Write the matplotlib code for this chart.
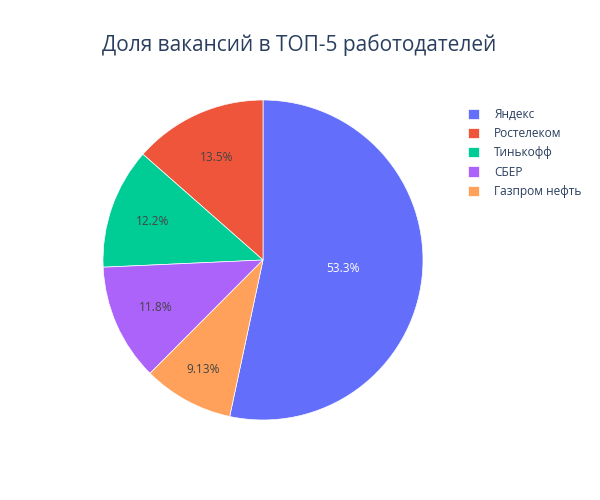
import numpy as np
import matplotlib
matplotlib.use("Agg")
import matplotlib.pyplot as plt

# ==== ДАННЫЕ ====
COMPANIES = ["Яндекс", "Ростелеком", "Тинькофф", "СБЕР", "Газпром нефть"]
SHARES = [53.3, 13.5, 12.2, 11.8, 9.13]
TITLE = "Доля вакансий в ТОП-5 работодателей"

# ==== ОФОРМЛЕНИЕ ====
COLORS = ["#636EFA", "#EF553B", "#00CC96", "#AB63FA", "#FFA15A"]
TEXT_COLORS = ["white", "#444444", "#444444", "#444444", "#444444"]
LABEL_RADIUS = [0.50, 0.70, 0.73, 0.73, 0.78]
TITLE_COLOR = "#2a3f5f"

plt.rcParams["font.family"] = ["Open Sans", "DejaVu Sans"]

fig = plt.figure(figsize=(6, 5), dpi=100)
ax = fig.add_axes([103 / 600, 80 / 500, 320 / 600, 320 / 500])

start = 90 - 360 * SHARES[0] / sum(SHARES)
wedges, _ = ax.pie(
    SHARES, colors=COLORS, startangle=start, counterclock=True,
    radius=1.0, wedgeprops=dict(edgecolor="white", linewidth=0.5),
)
ax.set_xlim(-1, 1)
ax.set_ylim(-1, 1)
ax.set_aspect("equal")
ax.axis("off")

# подписи процентов внутри секторов
for w, val, r, tc in zip(wedges, SHARES, LABEL_RADIUS, TEXT_COLORS):
    mid = np.deg2rad((w.theta1 + w.theta2) / 2)
    ax.text(r * np.cos(mid), r * np.sin(mid), f"{val:g}%",
            ha="center", va="center", fontsize=8.6, color=tc)

fig.text(299 / 600, 1 - 45 / 500, TITLE, ha="center", va="center",
         fontsize=15, color=TITLE_COLOR)

fig.legend(
    wedges, COMPANIES, loc="upper left", bbox_to_anchor=(468 / 600, 1 - 108 / 500),
    frameon=False, fontsize=8.6, labelcolor=TITLE_COLOR,
    handlelength=0.95, handleheight=0.95, handletextpad=1.25, labelspacing=0.52,
    borderpad=0, borderaxespad=0,
)

fig.savefig("out.png", dpi=100, facecolor="white")
